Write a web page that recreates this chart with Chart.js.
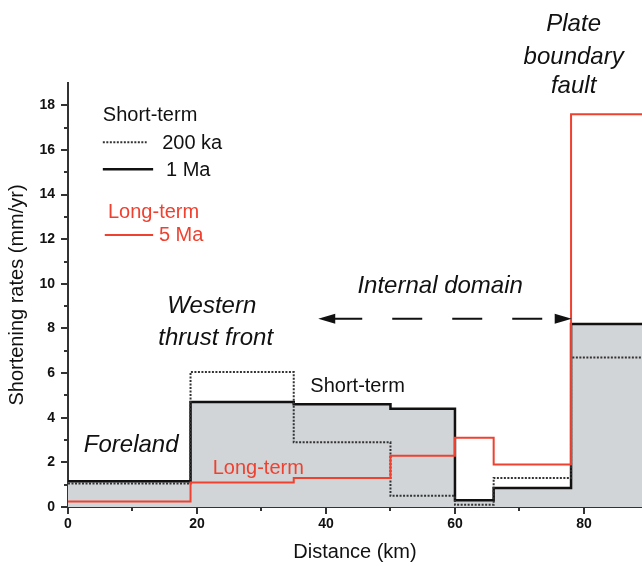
<!DOCTYPE html>
<html lang="en">
<head>
    <meta charset="UTF-8" />
    <title>Shortening rates vs distance</title>
    <script src="https://cdn.jsdelivr.net/npm/chart.js"></script>
    <style>
        body { margin: 0; background: #fff; }
        canvas { display: block; }
    </style>
</head>
<body>
    <canvas id="rateChart" width="642" height="566"></canvas>
    <script>
        // segment boundaries along the section (km), last one is the right edge
        const breaks = [0, 19, 35, 50, 60, 66, 78, 89];
        // rates per segment (mm/yr)
        const shortTerm200ka = [1.05, 6.05, 2.9, 0.5, 0.1, 1.3, 6.7];
        const shortTerm1Ma = [1.15, 4.7, 4.6, 4.4, 0.3, 0.85, 8.2];
        const longTerm5Ma = [0.25, 1.1, 1.3, 2.3, 3.1, 1.9, 17.6];

        const xTicks = [0, 20, 40, 60, 80];
        const yTicks = [0, 2, 4, 6, 8, 10, 12, 14, 16, 18];

        const FONT = '"Liberation Sans", Arial, sans-serif';
        const RED = '#ef4130';
        const INK = '#111';

        function steps(values) {
            const pts = values.map((v, i) => ({ x: breaks[i], y: v }));
            pts.push({ x: breaks[breaks.length - 1], y: values[values.length - 1] });
            return pts;
        }

        // minor/major tick marks drawn outside the axes
        const tickMarks = {
            id: 'tickMarks',
            afterDraw(chart) {
                const { ctx, scales: { x, y } } = chart;
                ctx.save();
                ctx.strokeStyle = '#333';
                ctx.lineWidth = 2;
                ctx.beginPath();
                for (let v = 0; v <= 18; v++) {
                    const py = Math.round(y.getPixelForValue(v));
                    const len = yTicks.includes(v) ? 7 : 4;
                    ctx.moveTo(x.left, py);
                    ctx.lineTo(x.left - len, py);
                }
                for (let v = 0; v <= 80; v += 10) {
                    const px = Math.round(x.getPixelForValue(v));
                    const len = xTicks.includes(v) ? 7 : 4;
                    ctx.moveTo(px, y.bottom);
                    ctx.lineTo(px, y.bottom + len);
                }
                ctx.stroke();
                ctx.restore();
            }
        };

        // labels, arrow and hand-made legend
        const notes = {
            id: 'notes',
            afterDraw(chart) {
                const { ctx, scales: { x, y } } = chart;
                const P = (km, v) => [x.getPixelForValue(km), y.getPixelForValue(v)];
                const text = (str, km, v, font, color, align) => {
                    const [px, py] = P(km, v);
                    ctx.font = font;
                    ctx.fillStyle = color;
                    ctx.textAlign = align || 'center';
                    ctx.textBaseline = 'alphabetic';
                    ctx.fillText(str, px, py);
                };
                ctx.save();
                const ital = 'italic 24px ' + FONT;
                text('Plate', 78.4, 21.35, ital, INK);
                text('boundary', 78.4, 19.87, ital, INK);
                text('fault', 78.4, 18.57, ital, INK);
                text('Internal domain', 57.7, 9.59, ital, INK);
                text('Western', 22.3, 8.7, ital, INK);
                text('thrust front', 22.9, 7.27, ital, INK);
                text('Foreland', 9.8, 2.45, ital, INK);
                text('Short-term', 44.9, 5.17, '20px ' + FONT, INK);
                text('Long-term', 29.5, 1.5, '20px ' + FONT, RED);

                // dashed double arrow
                const [ax1, ay] = P(38.8, 8.44);
                const [ax2] = P(78.1, 8.44);
                ctx.strokeStyle = INK;
                ctx.fillStyle = INK;
                ctx.lineWidth = 2;
                ctx.setLineDash([30, 30]);
                ctx.beginPath();
                ctx.moveTo(ax1 + 14, ay);
                ctx.lineTo(ax2 - 14, ay);
                ctx.stroke();
                ctx.setLineDash([]);
                ctx.beginPath();
                ctx.moveTo(ax1, ay);
                ctx.lineTo(ax1 + 17, ay - 5);
                ctx.lineTo(ax1 + 17, ay + 5);
                ctx.closePath();
                ctx.moveTo(ax2, ay);
                ctx.lineTo(ax2 - 17, ay - 5);
                ctx.lineTo(ax2 - 17, ay + 5);
                ctx.closePath();
                ctx.fill();

                // legend
                const lf = '20px ' + FONT;
                text('Short-term', 5.4, 17.28, lf, INK, 'left');
                text('200 ka', 14.6, 16.03, lf, INK, 'left');
                text('1 Ma', 15.2, 14.83, lf, INK, 'left');
                text('Long-term', 6.2, 12.95, lf, RED, 'left');
                text('5 Ma', 14.1, 11.92, lf, RED, 'left');
                const seg = (k1, k2, v, color, w, dash) => {
                    const [p1x, py] = P(k1, v);
                    const [p2x] = P(k2, v);
                    ctx.strokeStyle = color;
                    ctx.lineWidth = w;
                    ctx.setLineDash(dash);
                    ctx.beginPath();
                    ctx.moveTo(p1x, py);
                    ctx.lineTo(p2x, py);
                    ctx.stroke();
                };
                seg(5.4, 12.2, 16.35, '#333', 2, [2, 1.5]);
                seg(5.4, 13.2, 15.14, INK, 2.5, []);
                seg(5.7, 13.2, 12.19, RED, 2, []);
                ctx.restore();
            }
        };

        Chart.defaults.font.family = FONT;
        Chart.defaults.color = INK;

        new Chart(document.getElementById('rateChart'), {
            type: 'line',
            data: {
                datasets: [
                    {
                        label: '5 Ma',
                        data: steps(longTerm5Ma),
                        stepped: true,
                        borderColor: RED,
                        borderWidth: 2,
                        pointRadius: 0,
                        fill: false,
                        order: 1
                    },
                    {
                        label: '200 ka',
                        data: steps(shortTerm200ka),
                        stepped: true,
                        borderColor: '#333',
                        borderWidth: 2,
                        borderDash: [2, 1.5],
                        pointRadius: 0,
                        fill: false,
                        order: 2
                    },
                    {
                        label: '1 Ma',
                        data: steps(shortTerm1Ma),
                        stepped: true,
                        borderColor: INK,
                        borderWidth: 2.5,
                        backgroundColor: '#d1d5d7',
                        pointRadius: 0,
                        fill: 'origin',
                        order: 3
                    }
                ]
            },
            options: {
                responsive: false,
                animation: false,
                layout: { padding: { top: 83, right: 0, left: 0, bottom: 0 } },
                plugins: {
                    legend: { display: false },
                    tooltip: { enabled: false }
                },
                scales: {
                    x: {
                        type: 'linear',
                        min: 0,
                        max: 89,
                        afterFit: s => { s.height = 59; },
                        border: { display: true, color: '#333', width: 2 },
                        grid: { drawOnChartArea: false, drawTicks: true, tickLength: 7, color: 'transparent' },
                        ticks: {
                            stepSize: 10,
                            includeBounds: false,
                            autoSkip: false,
                            maxRotation: 0,
                            padding: 2,
                            font: { size: 14, weight: 'bold' },
                            callback: v => xTicks.includes(v) ? String(v) : ''
                        },
                        title: {
                            display: true,
                            text: 'Distance (km)',
                            font: { size: 20 },
                            padding: { top: 0, bottom: 2 }
                        }
                    },
                    y: {
                        min: 0,
                        max: 19,
                        afterFit: s => { s.width = 68; },
                        border: { display: true, color: '#333', width: 2 },
                        grid: { drawOnChartArea: false, drawTicks: true, tickLength: 7, color: 'transparent' },
                        ticks: {
                            stepSize: 1,
                            autoSkip: false,
                            padding: 6,
                            font: { size: 14, weight: 'bold' },
                            callback: v => yTicks.includes(v) ? String(v) : ''
                        },
                        title: {
                            display: true,
                            text: 'Shortening rates (mm/yr)',
                            font: { size: 20 },
                            padding: { top: 5, bottom: 0 }
                        }
                    }
                }
            },
            plugins: [tickMarks, notes]
        });
    </script>
</body>
</html>
